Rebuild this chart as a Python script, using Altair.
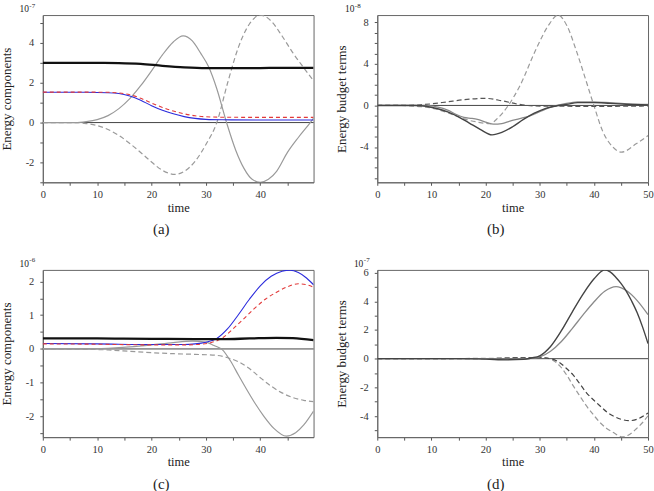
import altair as alt
import pandas as pd

FONT = "Liberation Serif"
BLACK = "#111111"
DARK = "#555555"
LIGHT = "#9a9a9a"
BLUE = "#2b2bdc"
RED = "#e23a3a"

# ---------------- panel (a): energy components, x 1e-7 ----------------
a_total_t = [0, 10, 14, 18, 22, 26, 30, 35, 40, 45, 49.8]
a_total_v = [3.0, 3.0, 2.99, 2.95, 2.85, 2.77, 2.73, 2.73, 2.74, 2.75, 2.75]

a_blue_t = [0, 8, 12, 14, 16, 18, 20, 22, 24, 26, 28, 30, 33, 40, 49.8]
a_blue_v = [1.52, 1.52, 1.50, 1.46, 1.33, 1.12, 0.85, 0.62, 0.44, 0.30, 0.21, 0.16, 0.14, 0.13, 0.13]
a_red_v = [1.53, 1.53, 1.52, 1.49, 1.40, 1.22, 0.98, 0.76, 0.58, 0.44, 0.34, 0.29, 0.27, 0.26, 0.26]

a_gray_t = [0, 6, 8, 10, 12, 14, 16, 18, 20, 22, 24, 25.8, 27.5, 29, 30.5, 32, 33.8,
            35.5, 37, 38.5, 40, 41.5, 43, 45, 47, 49.2, 49.8]
a_gray_v = [0, 0, 0.05, 0.15, 0.35, 0.7, 1.2, 1.85, 2.6, 3.4, 4.05, 4.35, 4.1, 3.5, 2.8, 1.7, 0.0,
            -1.4, -2.3, -2.85, -3.0, -2.85, -2.45, -1.5, -0.75, 0.0, 0.22]

a_gdash_t = [0, 6, 8, 10, 12, 14, 16, 18, 20, 22, 24.3, 26, 28, 30, 32, 34, 36, 38, 40,
             42, 44, 46, 48, 49.8]
a_gdash_v = [0, 0, -0.05, -0.15, -0.35, -0.65, -1.05, -1.5, -1.98, -2.4, -2.6, -2.45, -1.95, -1.1,
             0.0, 2.0, 3.8, 4.95, 5.4, 5.1, 4.35, 3.5, 2.75, 2.1]

# ---------------- panel (b): energy budget terms, x 1e-8 ----------------
b_ldash_t = [0, 4, 6, 8, 10, 13, 16, 18.5, 20.8, 22.3, 24.2, 26.3, 29.4, 31.6, 33.4, 35,
             36.8, 38.6, 40, 41.6, 43.5, 45.1, 47.8, 50]
b_ldash_v = [0, 0, -0.05, -0.12, -0.25, -0.7, -1.3, -1.6, -1.75, -1.2, 0.0, 1.85, 5.5, 7.7, 8.7, 7.7,
             5.2, 2.3, 0.0, -2.45, -4.0, -4.5, -3.7, -2.9]

b_ddash_t = [0, 6, 10, 13, 16, 20, 23, 26, 29, 35, 40, 45, 50]
b_ddash_v = [0, 0.02, 0.15, 0.35, 0.55, 0.68, 0.45, 0.12, -0.05, -0.08, -0.1, -0.08, -0.05]

b_dsolid_t = [0, 7, 9, 11, 13, 15, 17, 19, 21.2, 23, 25, 27, 29, 31, 33, 35, 37, 40, 43, 46, 50]
b_dsolid_v = [0, 0, -0.08, -0.3, -0.62, -1.1, -1.7, -2.3, -2.83, -2.6, -2.05, -1.35, -0.75, -0.3,
              -0.05, 0.1, 0.27, 0.28, 0.2, 0.12, 0.05]

b_lsolid_t = [0, 9, 11, 13, 14.5, 16, 17.5, 18.5, 20, 21.5, 23, 24.5, 26.3, 28.2, 30, 32.5,
              34.5, 37, 42, 46.5, 50]
b_lsolid_v = [0, 0, -0.15, -0.45, -0.85, -1.15, -1.25, -1.35, -1.6, -1.8, -1.75, -1.5, -1.27, -1.0,
              -0.6, -0.1, 0.15, 0.35, 0.3, 0.15, 0.1]

# ---------------- panel (c): energy components, x 1e-6 ----------------
c_total_t = [0, 10, 20, 28, 33, 38, 43, 46, 49.8]
c_total_v = [0.31, 0.31, 0.3, 0.29, 0.29, 0.31, 0.33, 0.32, 0.26]

c_blue_t = [0, 10, 20, 26, 28, 30, 32, 34, 36, 38, 40, 42, 44, 45.5, 47, 48.5, 49.8]
c_blue_v = [0.16, 0.15, 0.13, 0.13, 0.15, 0.2, 0.31, 0.6, 1.02, 1.47, 1.87, 2.15, 2.3, 2.33, 2.26,
            2.1, 1.9]

c_red_t = [0, 10, 20, 26, 29, 31, 33, 35, 37, 39, 41, 43, 45, 47, 48.5, 49.8]
c_red_v = [0.15, 0.14, 0.12, 0.12, 0.14, 0.19, 0.32, 0.6, 0.9, 1.21, 1.48, 1.68, 1.84, 1.93, 1.9, 1.83]

c_gray_t = [0, 8, 12, 16, 20, 24, 27.5, 30, 31.5, 33, 34.5, 36, 37.5, 39, 40.7, 42.5, 44.8,
            46.5, 48, 49.8]
c_gray_v = [0, 0, 0.02, 0.06, 0.12, 0.19, 0.23, 0.2, 0.1, -0.02, -0.35, -0.78, -1.2, -1.6, -2.0,
            -2.35, -2.58, -2.48, -2.25, -1.84]

c_gdash_t = [0, 8, 12, 16, 20, 24, 28, 32, 34, 36, 38, 40, 42, 44, 46, 48, 49.8]
c_gdash_v = [0, -0.01, -0.03, -0.07, -0.11, -0.14, -0.16, -0.19, -0.26, -0.38, -0.58, -0.85, -1.1,
             -1.3, -1.44, -1.52, -1.56]

# ---------------- panel (d): energy budget terms, x 1e-7 ----------------
d_dsolid_t = [0, 15, 20, 24, 27, 28.5, 30, 32, 34, 36, 38, 40, 42, 43, 44, 45, 46, 47, 48, 49, 50]
d_dsolid_v = [0, 0, -0.03, -0.08, -0.05, 0.05, 0.2, 0.85, 1.95, 3.25, 4.5, 5.55, 6.19, 6.05, 5.7,
              5.25, 4.7, 4.0, 3.2, 2.2, 1.05]

d_lsolid_t = [0, 20, 24, 27, 29, 30, 32, 34, 36, 38, 40, 42, 44.1, 46, 48, 50]
d_lsolid_v = [0, 0, -0.04, -0.02, 0.05, 0.12, 0.52, 1.2, 2.1, 3.05, 3.95, 4.7, 5.03, 4.75, 4.05, 3.07]

d_ddash_t = [0, 20, 25, 30, 32, 33.7, 35, 36.2, 37.5, 38.6, 40, 41.1, 42.5, 43.5, 45, 46.6, 48, 50]
d_ddash_v = [0, 0.0, 0.05, 0.07, 0.0, -0.28, -0.7, -1.15, -1.8, -2.36, -2.9, -3.28, -3.75, -3.98,
             -4.22, -4.32, -4.22, -3.79]

d_ldash_t = [0, 20, 25, 29, 31, 32.4, 33.7, 35, 36.2, 37.4, 38.6, 40, 41.1, 42.3, 43.5, 45.3,
             46.5, 47.8, 49, 50]
d_ldash_v = [0, 0.02, 0.07, 0.08, 0.05, -0.1, -0.5, -1.15, -1.9, -2.6, -3.28, -3.95, -4.44, -4.85,
             -5.13, -5.45, -5.3, -4.9, -4.45, -3.98]

W, H = 272, 168


def series(t, v, color, width, dash=None):
    style = dict(color=color, strokeWidth=width, interpolate="monotone", clip=True)
    if dash:
        style["strokeDash"] = dash
    return alt.Chart(pd.DataFrame({"time": t, "value": v})).mark_line(**style)


def label(text, x, y, size, align="center"):
    return alt.Chart(pd.DataFrame({"k": [0]})).mark_text(
        text=text, font=FONT, fontSize=size, color="#222", align=align, baseline="middle"
    ).encode(x=alt.value(x), y=alt.value(y))


def panel(lines, xmax, ydom, yticks, ymajor, ytitle, power, exp_x, letter):
    xticks = [v for v in range(0, 51, 5) if v <= xmax]
    x = alt.X(
        "time:Q",
        scale=alt.Scale(domain=[0, xmax], nice=False, zero=False),
        axis=alt.Axis(
            values=xticks,
            labelExpr="datum.value % 10 == 0 ? toString(datum.value) : ''",
            labelFont=FONT, titleFont=FONT, labelPadding=4,
            title="time", titleX=W / 2, titleY=29, titleBaseline="alphabetic",
            titleFontSize=12.5,
        ),
    )
    y = alt.Y(
        "value:Q",
        scale=alt.Scale(domain=ydom, nice=False, zero=False),
        axis=alt.Axis(
            values=yticks,
            labelExpr=f"abs(datum.value / {ymajor} - round(datum.value / {ymajor})) < 0.001 ? toString(datum.value) : ''",
            labelFont=FONT, titleFont=FONT, labelPadding=6,
            title=ytitle, titleX=-36, titleY=H / 2, titleAngle=-90,
            titleAlign="center", titleBaseline="middle", titleFontSize=13,
        ),
    )
    zero = alt.Chart(pd.DataFrame({"value": [0]})).mark_rule(color="#444", strokeWidth=1)
    layers = [zero.encode(y=y)] + [ln.encode(x=x, y=y) for ln in lines]
    layers += [
        label("10", exp_x, -6, 9.5, align="right"),
        label(power, exp_x + 0.5, -9.5, 7, align="left"),
        label(letter, W / 2 - 17, H + 47, 15),
    ]
    return alt.layer(*layers).properties(width=W, height=H)


pa = panel(
    [
        series(a_gray_t, a_gray_v, LIGHT, 1.2),
        series(a_gdash_t, a_gdash_v, LIGHT, 1.2, [5, 3]),
        series(a_blue_t, a_blue_v, BLUE, 1.1),
        series(a_blue_t, a_red_v, RED, 1.1, [4, 3]),
        series(a_total_t, a_total_v, BLACK, 2.3),
    ],
    49.8, [-3.0, 5.4], [-3, -2, -1, 0, 1, 2, 3, 4, 5], 2,
    "Energy components", "-7", -14, "(a)",
)

pb = panel(
    [
        series(b_ldash_t, b_ldash_v, LIGHT, 1.2, [5, 3]),
        series(b_ddash_t, b_ddash_v, DARK, 1.2, [5, 3]),
        series(b_lsolid_t, b_lsolid_v, "#8a8a8a", 1.3),
        series(b_dsolid_t, b_dsolid_v, "#444444", 1.4),
    ],
    50, [-7.4, 8.7], [-7, -6, -5, -4, -3, -2, -1, 0, 1, 2, 3, 4, 5, 6, 7, 8], 4,
    "Energy budget terms", "-8", -23, "(b)",
)

pc = panel(
    [
        series(c_gray_t, c_gray_v, LIGHT, 1.2),
        series(c_gdash_t, c_gdash_v, LIGHT, 1.2, [5, 3]),
        series(c_blue_t, c_blue_v, BLUE, 1.1),
        series(c_red_t, c_red_v, RED, 1.1, [4, 3]),
        series(c_total_t, c_total_v, BLACK, 2.3),
    ],
    49.8, [-2.61, 2.34], [-2.5, -2, -1.5, -1, -0.5, 0, 0.5, 1, 1.5, 2], 1,
    "Energy components", "-6", -14, "(c)",
)

pd_ = panel(
    [
        series(d_ldash_t, d_ldash_v, LIGHT, 1.2, [5, 3]),
        series(d_ddash_t, d_ddash_v, "#444444", 1.2, [5, 3]),
        series(d_lsolid_t, d_lsolid_v, "#8a8a8a", 1.3),
        series(d_dsolid_t, d_dsolid_v, "#444444", 1.4),
    ],
    50, [-5.47, 6.19], [-5, -4, -3, -2, -1, 0, 1, 2, 3, 4, 5, 6], 2,
    "Energy budget terms", "-7", -14, "(d)",
)

chart = (
    alt.concat(pa, pb, pc, pd_, columns=2, spacing=alt.RowColnumber(row=88, column=64), bounds="flush")
    .properties(padding={"left": 0, "top": 0, "right": 0, "bottom": 0}, background="white")
    .configure(font=FONT)
    .configure_view(stroke="#666666", strokeWidth=1)
    .configure_axis(
        grid=False,
        domainColor="#666666",
        tickColor="#555555",
        tickSize=3,
        labelFontSize=10.5,
        labelColor="#333333",
        labelFlush=False,
        labelOverlap=False,
        titleFontWeight="normal",
        titleColor="#222222",
    )
)

chart.save("out.html", embed_options={"renderer": "svg", "actions": False})
